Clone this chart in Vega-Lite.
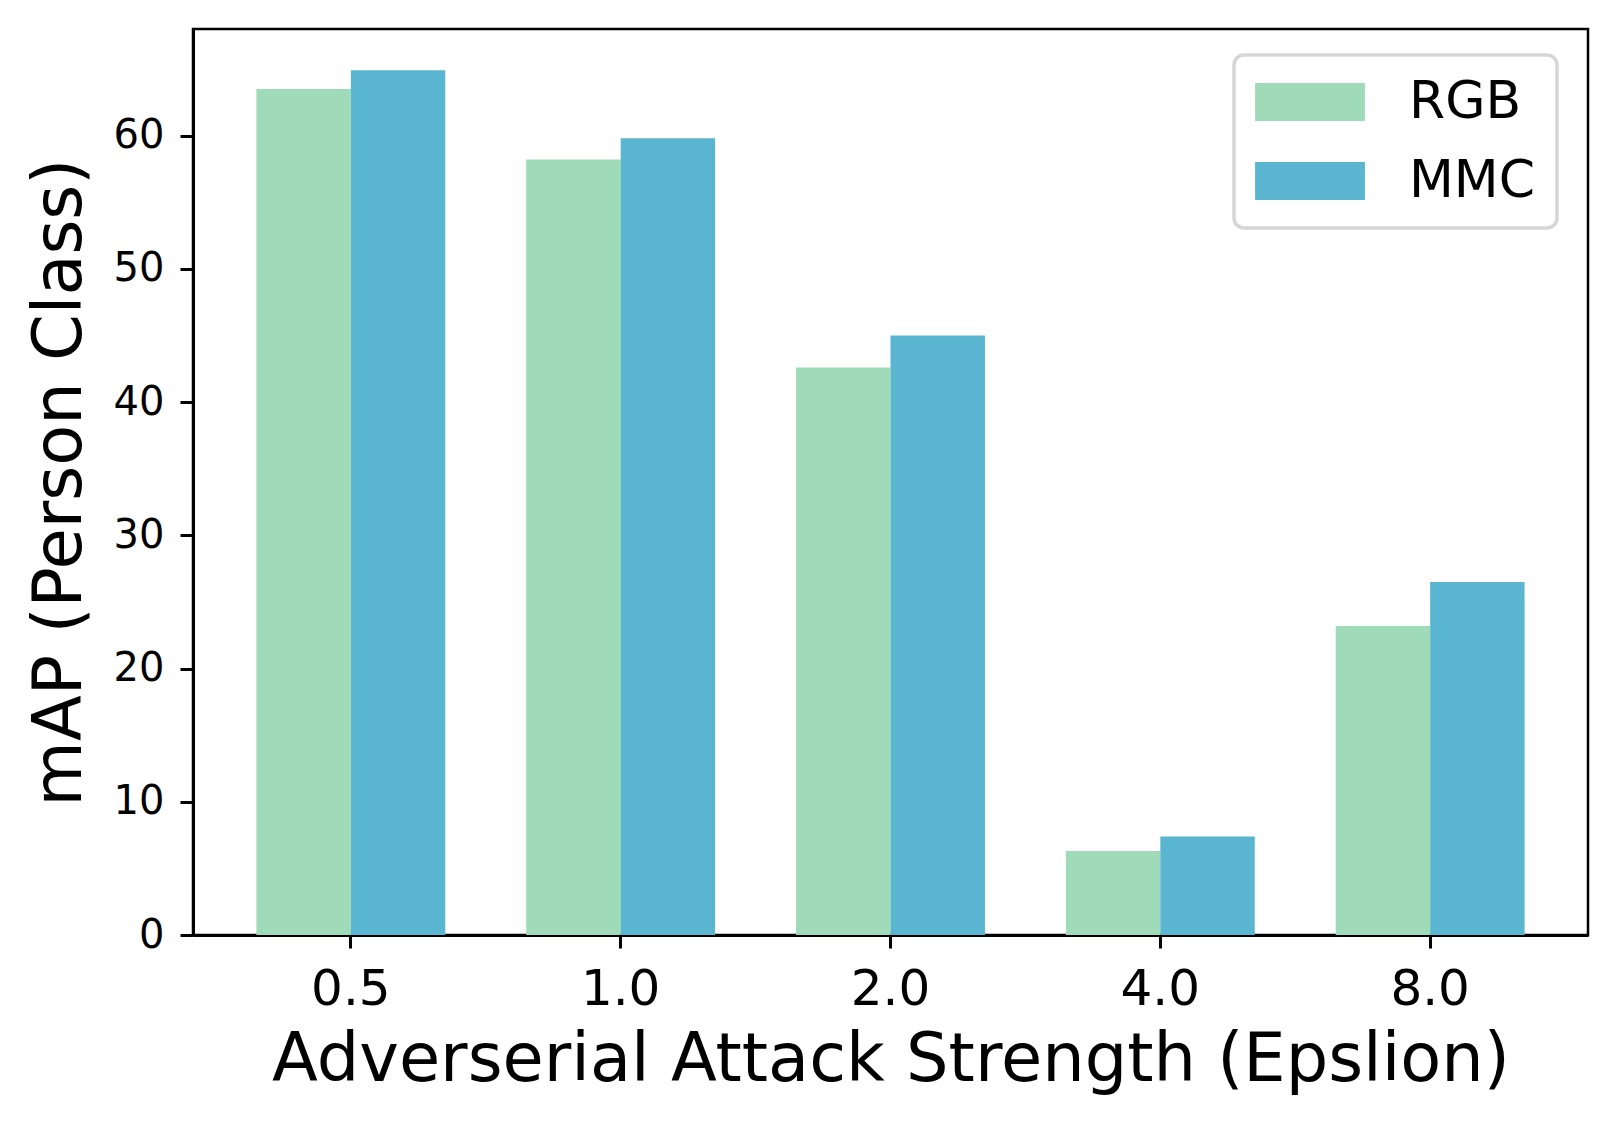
{
  "$schema": "https://vega.github.io/schema/vega-lite/v6.json",
  "width": 1395,
  "height": 906,
  "autosize": "none",
  "padding": {"left": 193, "top": 29, "right": 29, "bottom": 188},
  "background": "white",
  "config": {
    "font": "DejaVu Sans",
    "view": {"stroke": "#000", "strokeWidth": 2.5},
    "axis": {
      "labelFont": "DejaVu Sans",
      "titleFont": "DejaVu Sans",
      "labelColor": "#000",
      "titleColor": "#000",
      "domainColor": "#000",
      "tickColor": "#000",
      "domainWidth": 3,
      "tickWidth": 3,
      "tickSize": 13,
      "grid": false,
      "titleFontWeight": "normal",
      "titleFontSize": 67
    }
  },
  "data": {
    "values": [
      {"epsilon": "0.5", "model": "RGB", "mAP": 63.5},
      {"epsilon": "0.5", "model": "MMC", "mAP": 64.9},
      {"epsilon": "1.0", "model": "RGB", "mAP": 58.2},
      {"epsilon": "1.0", "model": "MMC", "mAP": 59.8},
      {"epsilon": "2.0", "model": "RGB", "mAP": 42.6},
      {"epsilon": "2.0", "model": "MMC", "mAP": 45.0},
      {"epsilon": "4.0", "model": "RGB", "mAP": 6.3},
      {"epsilon": "4.0", "model": "MMC", "mAP": 7.4},
      {"epsilon": "8.0", "model": "RGB", "mAP": 23.2},
      {"epsilon": "8.0", "model": "MMC", "mAP": 26.5}
    ]
  },
  "mark": {"type": "bar"},
  "encoding": {
    "x": {
      "field": "epsilon",
      "type": "nominal",
      "sort": null,
      "scale": {"paddingInner": 0.3, "paddingOuter": 0.235},
      "axis": {
        "title": "Adverserial Attack Strength (Epslion)",
        "labelAngle": 0,
        "labelFontSize": 50,
        "labelPadding": 16,
        "titlePadding": 13
      }
    },
    "xOffset": {
      "field": "model",
      "type": "nominal",
      "sort": ["RGB", "MMC"],
      "scale": {"paddingInner": 0, "paddingOuter": 0}
    },
    "y": {
      "field": "mAP",
      "type": "quantitative",
      "scale": {"domain": [0, 68], "nice": false, "zero": true},
      "axis": {
        "title": "mAP (Person Class)",
        "values": [0, 10, 20, 30, 40, 50, 60],
        "labelFontSize": 40,
        "labelPadding": 16,
        "titlePadding": 19
      }
    },
    "color": {
      "field": "model",
      "type": "nominal",
      "sort": ["RGB", "MMC"],
      "scale": {"domain": ["RGB", "MMC"], "range": ["#9fdbb9", "#5ab6d0"]},
      "legend": {
        "title": null,
        "orient": "none",
        "legendX": 1041,
        "legendY": 26,
        "padding": 21,
        "strokeColor": "#d6d6d6",
        "cornerRadius": 10,
        "fillColor": "white",
        "symbolType": "M-2.89,-1H2.89V1H-2.89Z",
        "symbolSize": 1444,
        "symbolStrokeWidth": 0,
        "symbolOpacity": 1,
        "symbolOffset": 29,
        "labelOffset": 73,
        "labelFontSize": 52,
        "labelFont": "DejaVu Sans",
        "labelColor": "#000",
        "rowPadding": 27,
        "encode": {"legend": {"update": {"strokeWidth": {"value": 3.5}}}}
      }
    }
  }
}
